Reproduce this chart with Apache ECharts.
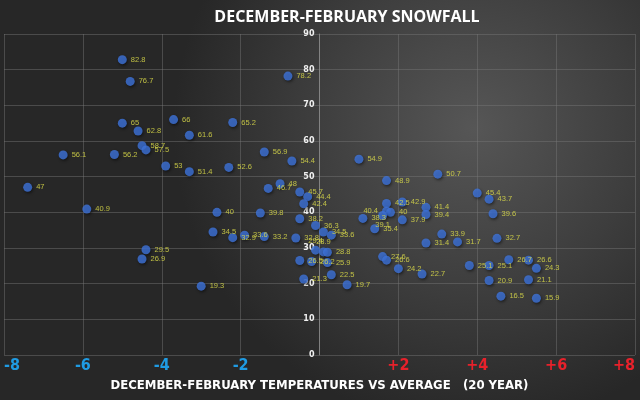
<!DOCTYPE html>
<html>
<head>
<meta charset="utf-8">
<script src="https://cdn.jsdelivr.net/npm/echarts@6/dist/echarts.min.js"></script>
<style>html,body{margin:0;padding:0;background:#333;}#c{width:640px;height:400px;}</style>
</head>
<body>
<div id="c"></div>
<script>
// Temperature departure (°F vs 20-year average)
const tempX = [
  -5.0, -4.8, -0.8, -5.0, -4.6, -3.7, -3.3, -2.2, -4.5, -4.4,
  -6.5, -5.2, -3.9, -3.3, -2.3, -1.4, -0.7, -7.4, -1.0, -1.3,
  -0.5, -0.3, -0.4, -5.9, -2.6, -1.5, -0.5, -0.1, 0.1, 0.3,
  -2.7, -2.2, -1.9, -1.4, -0.6, -4.4, -4.5, -0.1, 0.1, 0.2,
  -0.5, -0.2, 0.2, -0.4, 0.3, 0.7, -3.0, 1.0, 3.0, 1.7,
  4.0, 4.3, 1.7, 2.1, 2.7, 2.7, 1.7, 1.8, 1.6, 1.1,
  2.1, 1.4, 4.4, 3.1, 2.7, 3.5, 4.5, 1.6, 1.7, 2.0,
  2.6, 3.8, 4.3, 4.8, 5.3, 5.5, 4.3, 5.3, 4.6, 5.5
];
// December-February snowfall (inches)
const snowfall = [
  82.8, 76.7, 78.2, 65, 62.8, 66, 61.6, 65.2, 58.7, 57.5,
  56.1, 56.2, 53, 51.4, 52.6, 56.9, 54.4, 47, 48, 46.7,
  45.7, 44.4, 42.4, 40.9, 40, 39.8, 38.2, 36.3, 34.5, 33.6,
  34.5, 32.9, 33.6, 33.2, 32.8, 29.5, 26.9, 29.4, 28.9, 28.8,
  26.5, 26.2, 25.9, 21.3, 22.5, 19.7, 19.3, 54.9, 50.7, 48.9,
  45.4, 43.7, 42.5, 42.9, 41.4, 39.4, 40.4, 40, 39.1, 38.3,
  37.9, 35.4, 39.6, 33.9, 31.4, 31.7, 32.7, 27.6, 26.6, 24.2,
  22.7, 25.1, 25.1, 26.7, 26.6, 24.3, 20.9, 21.1, 16.5, 15.9
];
const xTicks = [-8, -6, -4, -2, 0, 2, 4, 6, 8];
const yTicks = [0, 10, 20, 30, 40, 50, 60, 70, 80, 90];

const titleText = 'DECEMBER-FEBRUARY SNOWFALL';
const xTitleText = 'DECEMBER-FEBRUARY TEMPERATURES VS AVERAGE   (20 YEAR)';

// label placement tweaks (styling only)
const labelTweaks = {
  56: { position: 'left', distance: 4 },
  58: { position: 'bottom', distance: 1 },
  37: { position: 'top', distance: 1 },
  38: { position: 'top', distance: 1, offset: [8, 0] }
};

const points = tempX.map((x, i) => {
  const p = { value: [x, snowfall[i]] };
  if (labelTweaks[i]) p.label = labelTweaks[i];
  return p;
});

const W = 640, GL = 4, GR = 5;
const plotW = W - GL - GR;
const zeroOffset = -plotW * (0 - xTicks[0]) / (xTicks[xTicks.length - 1] - xTicks[0]);

const chart = echarts.init(document.getElementById('c'));
chart.setOption({
  backgroundColor: {
    type: 'radial', x: 0.74, y: 0.32, r: 0.75,
    colorStops: [
      { offset: 0, color: '#565656' },
      { offset: 0.55, color: '#3d3d3d' },
      { offset: 1, color: '#272727' }
    ]
  },
  animation: false,
  title: {
    text: titleText,
    left: 342, top: 4, textAlign: 'center',
    textStyle: { color: '#ffffff', fontSize: 16, fontWeight: 'bold', fontFamily: "'Open Sans', sans-serif" }
  },
  grid: { left: GL, right: GR, top: 34, bottom: 45, outerBoundsMode: 'none', containLabel: false },
  xAxis: {
    type: 'value', min: xTicks[0], max: xTicks[xTicks.length - 1], interval: 2,
    name: xTitleText, nameLocation: 'middle', nameGap: 23,
    nameTextStyle: { color: '#ffffff', fontSize: 13, fontWeight: 'bold', fontFamily: "'DejaVu Sans Condensed', 'Open Sans', sans-serif" },
    axisLine: { show: false },
    axisTick: { show: false },
    splitLine: { show: true, lineStyle: { color: 'rgba(120,120,120,0.45)', width: 1 } },
    axisLabel: {
      margin: 3,
      fontSize: 16, fontWeight: 'bold',
      fontFamily: "'DejaVu Sans Condensed', 'Open Sans', sans-serif",
      alignMinLabel: 'left', alignMaxLabel: 'right',
      formatter: v => v === 0 ? '' : (v > 0 ? '+' + v : String(v)),
      color: v => (Number(v) < 0 ? '#1f9be3' : '#e8212b')
    }
  },
  yAxis: {
    type: 'value', min: yTicks[0], max: yTicks[yTicks.length - 1], interval: 10,
    position: 'left', offset: zeroOffset,
    axisLine: { show: true, onZero: false, lineStyle: { color: 'rgba(150,150,150,0.7)', width: 1 } },
    axisTick: { show: false },
    splitLine: { show: true, lineStyle: { color: 'rgba(120,120,120,0.45)', width: 1 } },
    axisLabel: {
      margin: 5, fontSize: 8, fontWeight: 'bold', color: '#f0f0f0',
      fontFamily: 'DejaVu Sans, sans-serif'
    }
  },
  series: [{
    type: 'scatter',
    data: points,
    symbolSize: 9,
    itemStyle: {
      color: '#3f74dc',
      shadowBlur: 3, shadowColor: 'rgba(0,0,0,0.6)', shadowOffsetX: 1, shadowOffsetY: 1.5
    },
    label: {
      show: true, position: 'right', distance: 4,
      formatter: p => String(p.value[1]),
      color: '#e0e04a', fontSize: 7.5, fontFamily: "'Liberation Sans', Arial, sans-serif"
    },
    labelLayout: { hideOverlap: false }
  }]
});
</script>
</body>
</html>
